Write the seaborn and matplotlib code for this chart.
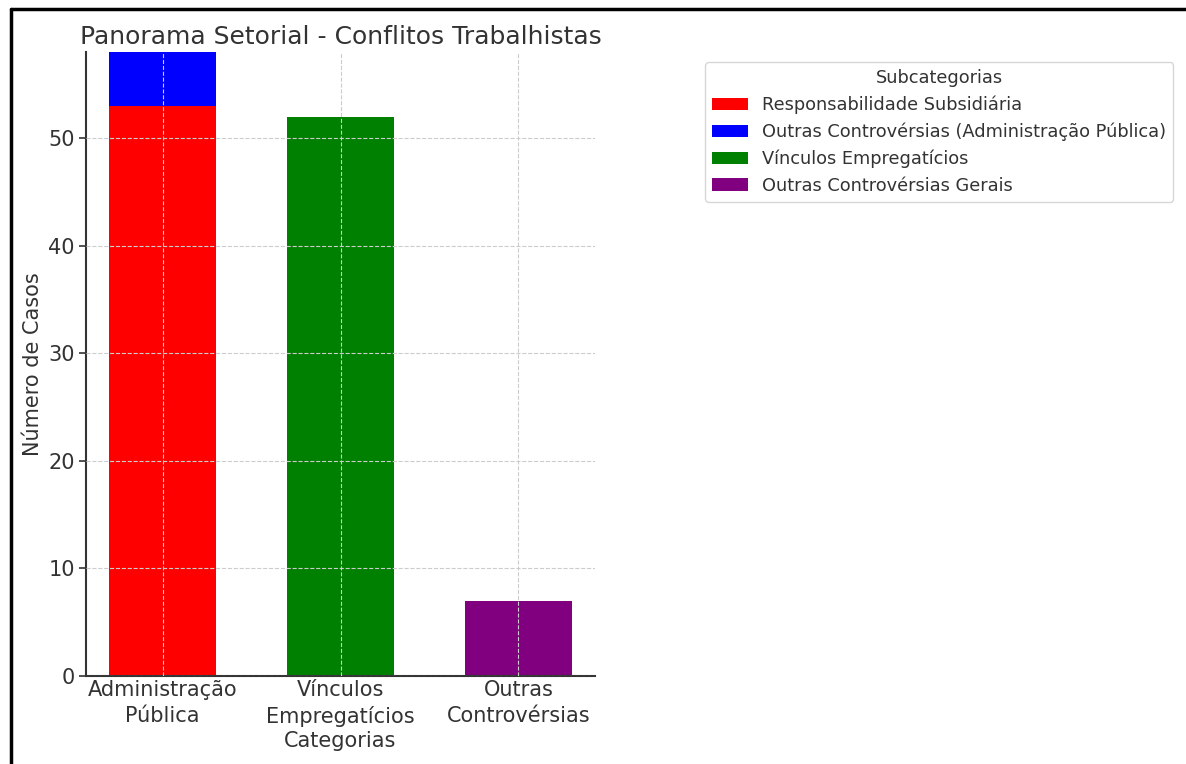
import matplotlib
matplotlib.use("Agg")
import matplotlib.pyplot as plt
from matplotlib.lines import Line2D
import seaborn as sns

# data
categories = ["Administração\nPública", "Vínculos\nEmpregatícios", "Outras\nControvérsias"]
subcategories = ["Responsabilidade Subsidiária",
                 "Outras Controvérsias (Administração Pública)",
                 "Vínculos Empregatícios",
                 "Outras Controvérsias Gerais"]
sub_category = [categories[0], categories[0], categories[1], categories[2]]
sub_values = [53, 5, 52, 7]
sub_colors = ["red", "blue", "green", "purple"]

sns.set_style("whitegrid")
plt.rcParams["font.family"] = ["DejaVu Sans"]
text_color = "#333333"
plt.rcParams["text.color"] = text_color
plt.rcParams["axes.labelcolor"] = text_color
plt.rcParams["xtick.color"] = text_color
plt.rcParams["ytick.color"] = text_color

fig = plt.figure(figsize=(11.86, 7.64), dpi=100)
ax = fig.add_axes([0.0725, 0.1152, 0.4292, 0.8167])

# stacked tops per category
tops = []
running = {}
for cat, val in zip(sub_category, sub_values):
    running[cat] = running.get(cat, 0) + val
    tops.append(running[cat])

# draw from the top of each stack downwards so lower segments cover higher ones
for i in reversed(range(len(subcategories))):
    sns.barplot(x=[sub_category[i]], y=[tops[i]], order=categories, color=sub_colors[i],
                width=0.6, saturation=1, label=subcategories[i], linewidth=0, ax=ax)

h, l = ax.get_legend_handles_labels()
lookup = dict(zip(l, h))
if ax.get_legend() is not None:
    ax.get_legend().remove()

ax.set_xlim(-0.43, 2.43)
ax.set_ylim(0, 58)
ax.set_axisbelow(False)
ax.grid(True, linestyle="--", color="#cccccc", linewidth=0.8)
for side in ["top", "right"]:
    ax.spines[side].set_visible(False)
for side in ["left", "bottom"]:
    ax.spines[side].set_color("#333333")
    ax.spines[side].set_linewidth(1.5)
ax.tick_params(axis="y", labelsize=15, length=5, width=1.2, left=True, pad=3)
ax.tick_params(axis="x", labelsize=15, length=0, pad=3)
plt.setp(ax.get_xticklabels(), linespacing=1.35)
ax.set_xlabel("Categorias", fontsize=15, labelpad=3)
ax.set_ylabel("Número de Casos", fontsize=15)
ax.set_title("Panorama Setorial - Conflitos Trabalhistas", fontsize=18, pad=6)

fig.legend([lookup[s] for s in subcategories], subcategories, title="Subcategorias",
           loc="upper left", bbox_to_anchor=(0.5944, 0.9188), borderaxespad=0,
           fontsize=12.8, title_fontsize=12.8, labelspacing=0.48, frameon=True,
           edgecolor="#cccccc")

# screenshot frame
fig.add_artist(Line2D([0.0093, 0.0093], [0, 0.988], color="black", linewidth=2.5,
                      transform=fig.transFigure))
fig.add_artist(Line2D([0.0093, 1.0], [0.988, 0.988], color="black", linewidth=2.5,
                      transform=fig.transFigure))

fig.savefig("out.png", dpi=100)
